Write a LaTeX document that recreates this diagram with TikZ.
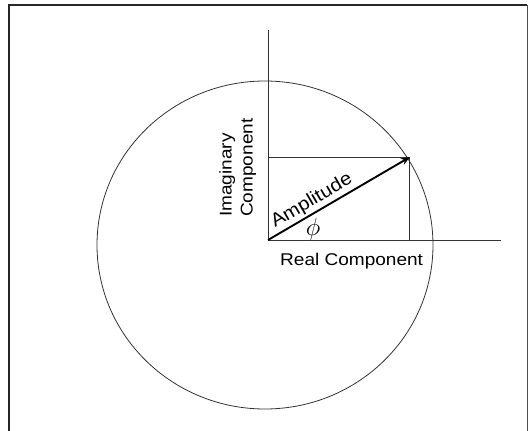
\documentclass[tikz,border=0pt]{standalone}
\usepackage{fontspec}
\setmainfont{Liberation Sans}
\usetikzlibrary{arrows.meta}
\newcommand\wtext[1]{\scalebox{1.12}[1]{#1}}
\begin{document}
\begin{tikzpicture}[x=1pt,y=-1pt,
  thinline/.style={line width=0.9pt,draw=black!80},
  framel/.style={line width=2pt,draw=black!85},
  lbl/.style={font=\fontsize{17}{21}\selectfont,inner sep=0pt,text=black}]
\useasboundingbox (0,0) rectangle (531,431);
% frame
\draw[framel] (9,431) -- (9,5) -- (527,5);
\draw[line width=0.9pt,draw=black!70] (527,5) -- (527,431);
% coordinates
\coordinate (O) at (268,240);
\coordinate (ytop) at (268,30);
\coordinate (xend) at (501,240);
\coordinate (tip) at (410,157);
\coordinate (yproj) at (268,157);
\coordinate (xproj) at (409,240);
\coordinate (xprojtop) at (409,157);
% circle
\draw[thinline,line width=0.8pt] (265,245) ellipse [x radius=168, y radius=164];
% axes
\draw[thinline] (O) -- (ytop);
\draw[thinline] (O) -- (xend);
% projections
\draw[thinline] (yproj) -- (tip);
\draw[thinline] (xprojtop) -- (xproj);
% amplitude arrow
\draw[line width=1.9pt,-{Stealth[length=9pt,width=7pt]}] (O) -- (tip)
  node[pos=0.35,sloped,above,lbl,inner sep=2pt,font=\fontsize{18.5}{21}\selectfont] (amp) {\scalebox{1.1}[1]{Amplitude}};
% labels
\node[lbl] (phi) at (313,229) {\fontsize{24}{24}\selectfont$\phi$};
\node[lbl,anchor=north west] (real) at (280,253) {\wtext{Real Component}};
\node[lbl,rotate=90,align=left,anchor=north west] (imag) at (219,217)
  {\wtext{Imaginary}\\\wtext{Component}};
\end{tikzpicture}
\end{document}
